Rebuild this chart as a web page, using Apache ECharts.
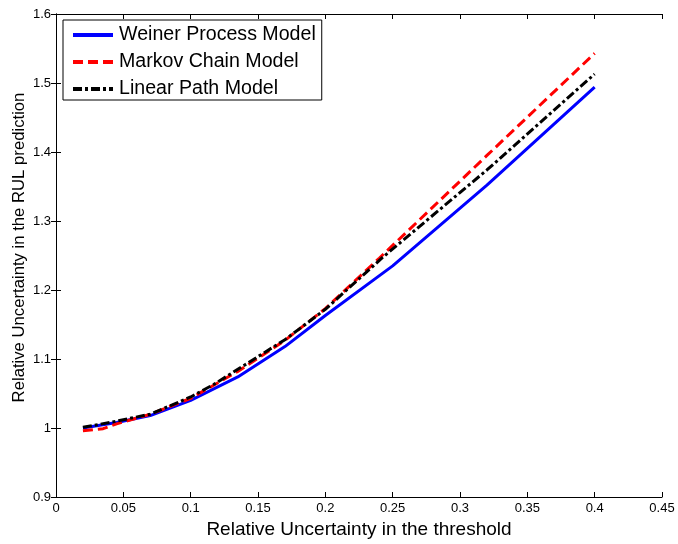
<!DOCTYPE html>
<html><head><meta charset="utf-8">
<script src="https://cdn.jsdelivr.net/npm/echarts@6/dist/echarts.min.js"></script>
<style>html,body{margin:0;padding:0;background:#fff}#c{width:678px;height:544px}</style>
</head><body><div id="c"></div>
<script>
var seriesNames = ['Weiner Process Model', 'Markov Chain Model', 'Linear Path Model'];
var weinerX = [0.02, 0.045, 0.07, 0.1, 0.135, 0.17, 0.2, 0.25, 0.32, 0.4];
var weinerY = [1.000, 1.008, 1.018, 1.040, 1.074, 1.118, 1.163, 1.235, 1.352, 1.494];
var markovX = [0.02, 0.035, 0.045, 0.07, 0.1, 0.135, 0.17, 0.2, 0.24, 0.32, 0.4];
var markovY = [0.996, 0.999, 1.006, 1.020, 1.043, 1.082, 1.127, 1.173, 1.246, 1.395, 1.543];
var linearX = [0.02, 0.04, 0.07, 0.1, 0.117, 0.135, 0.17, 0.2, 0.243, 0.32, 0.4];
var linearY = [1.001, 1.008, 1.020, 1.045, 1.063, 1.085, 1.128, 1.172, 1.248, 1.374, 1.513];
var xTicks = {min: 0, max: 0.45, interval: 0.05};
var yTicks = {min: 0.9, max: 1.6, interval: 0.1};

function pairs(xs, ys) { return xs.map(function (x, i) { return [x, ys[i]]; }); }

var font = 'Liberation Sans, Arial, sans-serif';
var axisCommon = {
  axisLine: {show: true, lineStyle: {color: '#000', width: 1}},
  axisTick: {show: true, inside: true, length: 5, lineStyle: {color: '#000'}},
  splitLine: {show: false},
  axisLabel: {color: '#000', fontSize: 13, fontFamily: font, margin: 5}
};
function ax(extra) { return Object.assign({}, JSON.parse(JSON.stringify(axisCommon)), extra); }

var chart = echarts.init(document.getElementById('c'), null, {renderer: 'canvas'});
chart.setOption({
  animation: false,
  backgroundColor: '#fff',
  grid: {left: 56, right: 16, top: 14, bottom: 47, outerBoundsMode: 'none', containLabel: false},
  legend: {
    left: 63, top: 20, orient: 'vertical',
    data: seriesNames,
    itemWidth: 40, itemHeight: 19, itemGap: 7,
    padding: [5, 6, 1, 8],
    borderColor: '#000', borderWidth: 1, backgroundColor: '#fff',
    itemStyle: {opacity: 0},
    lineStyle: {width: 4},
    textStyle: {fontSize: 19.6, fontFamily: font, color: '#000', padding: [0, 0, 0, 1]}
  },
  xAxis: [
    ax({type: 'value', min: xTicks.min, max: xTicks.max, interval: xTicks.interval,
      name: 'Relative Uncertainty in the threshold', nameLocation: 'middle', nameGap: 23,
      nameTextStyle: {fontSize: 19, fontFamily: font, color: '#000'}}),
    ax({type: 'value', position: 'top', min: xTicks.min, max: xTicks.max, interval: xTicks.interval,
      axisLabel: {show: false}})
  ],
  yAxis: [
    ax({type: 'value', min: yTicks.min, max: yTicks.max, interval: yTicks.interval,
      name: 'Relative Uncertainty in the RUL prediction', nameLocation: 'middle', nameGap: 28.5,
      nameMoveOverlap: false,
      nameTextStyle: {fontSize: 16.7, fontFamily: font, color: '#000', padding: [0, 0, 0, 16]}}),
    ax({type: 'value', position: 'right', min: yTicks.min, max: yTicks.max, interval: yTicks.interval,
      axisLabel: {show: false}})
  ],
  series: [
    {name: seriesNames[0], type: 'line', showSymbol: false, symbol: 'none', data: pairs(weinerX, weinerY),
      lineStyle: {color: '#0000ff', width: 3}, itemStyle: {color: '#0000ff'}},
    {name: seriesNames[1], type: 'line', showSymbol: false, symbol: 'none', data: pairs(markovX, markovY),
      lineStyle: {color: '#ff0000', width: 3, type: [10, 5]}, itemStyle: {color: '#ff0000'}},
    {name: seriesNames[2], type: 'line', showSymbol: false, symbol: 'none', data: pairs(linearX, linearY),
      lineStyle: {color: '#000000', width: 3, type: [9, 3, 3, 3]}, itemStyle: {color: '#000'}}
  ]
});
</script></body></html>
